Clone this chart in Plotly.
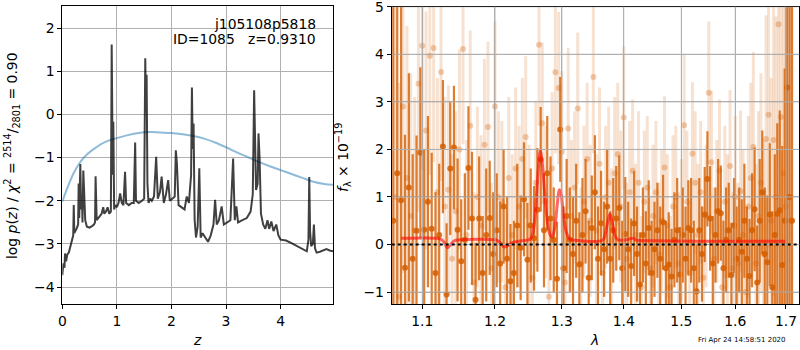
import plotly.graph_objects as go

# ---------------- left panel: log p(z) ----------------
z_pdf = [0.00, 0.02, 0.04, 0.05, 0.07, 0.09, 0.12, 0.15, 0.18, 0.20,
         0.21, 0.22, 0.26, 0.29, 0.30, 0.31, 0.33, 0.345, 0.36, 0.37,
         0.385, 0.40, 0.42, 0.45, 0.50, 0.55, 0.58, 0.60, 0.61, 0.63,
         0.68, 0.72, 0.75, 0.77, 0.80, 0.83, 0.86, 0.89, 0.905, 0.915,
         0.925, 0.935, 0.95, 0.97, 1.00, 1.03, 1.06, 1.09, 1.12, 1.15,
         1.17, 1.22, 1.27, 1.31, 1.335, 1.35, 1.40, 1.46, 1.50, 1.52,
         1.535, 1.545, 1.56, 1.58, 1.61, 1.64, 1.68, 1.72, 1.75, 1.79,
         1.82, 1.86, 1.90, 1.94, 1.97, 2.02, 2.06, 2.08, 2.10, 2.13,
         2.18, 2.24, 2.28, 2.32, 2.36, 2.375, 2.39, 2.405, 2.425, 2.45,
         2.48, 2.51, 2.535, 2.57, 2.62, 2.67, 2.72, 2.77, 2.80, 2.83,
         2.87, 2.92, 2.96, 3.02, 3.08, 3.13, 3.16, 3.19, 3.22, 3.30,
         3.38, 3.45, 3.49, 3.515, 3.535, 3.55, 3.58, 3.595, 3.615, 3.64,
         3.68, 3.72, 3.76, 3.79, 3.83, 3.87, 3.92, 3.96, 4.00, 4.10,
         4.20, 4.30, 4.40, 4.48, 4.51, 4.525, 4.54, 4.56, 4.59, 4.61,
         4.63, 4.66, 4.72, 4.78, 4.84, 4.90, 4.96]
logp_pdf = [-3.72, -3.45, -3.55, -3.22, -3.40, -3.25, -3.20, -3.05, -2.90, -2.80,
            -2.10, -2.75, -2.65, -2.55, -1.60, -2.40, -1.15, -2.20, -1.90, -2.50,
            -1.30, -2.10, -2.45, -2.60, -2.62, -2.58, -2.55, -2.50, -1.43, -2.45,
            -2.35, -2.30, -2.15, -2.30, -2.25, -2.15, -2.30, -2.25, 1.62, -0.50,
            -1.40, -0.17, -2.20, -2.10, -2.15, -2.05, -1.83, -2.05, -2.10, -1.33,
            -2.05, -2.10, -2.05, -2.05, -0.65, -2.00, -2.05, -2.00, -1.95, 1.30,
            0.05, 0.92, -1.60, -2.05, -1.95, -2.00, -1.90, -0.98, -1.95, -1.80,
            -1.44, -2.05, -1.85, -1.52, -2.00, -1.95, -1.90, -0.83, -1.13, -2.10,
            -2.15, -2.20, -1.90, -2.05, -1.40, 0.62, -0.80, -0.21, -2.45, -2.85,
            -2.60, -1.25, -2.85, -2.75, -2.85, -2.95, -2.80, -2.55, -1.98, -2.55,
            -2.45, -2.13, -2.55, -2.50, -2.45, -1.02, -2.45, -2.13, -2.50, -2.45,
            -2.40, -2.25, -1.85, 0.56, -1.00, -1.75, -1.60, -0.44, -1.00, -2.30,
            -2.55, -2.65, -2.45, -2.65, -2.48, -2.70, -2.55, -2.80, -2.90, -2.92,
            -2.98, -3.05, -3.13, -3.17, -2.90, -1.45, -2.70, -3.05, -3.00, -2.55,
            -3.10, -3.20, -3.18, -3.15, -3.12, -3.15, -3.17]

z_prior = [0.0, 0.1, 0.2, 0.32, 0.45, 0.6, 0.8, 1.0, 1.2, 1.4,
           1.6, 1.8, 2.0, 2.2, 2.4, 2.6, 2.8, 3.0, 3.2, 3.4,
           3.6, 3.8, 4.0, 4.2, 4.4, 4.6, 4.8, 4.96]
logp_prior = [-2.02, -1.68, -1.38, -1.12, -0.93, -0.78, -0.63, -0.55, -0.48, -0.43,
              -0.41, -0.42, -0.43, -0.46, -0.50, -0.56, -0.65, -0.76, -0.88, -0.99,
              -1.10, -1.20, -1.29, -1.38, -1.47, -1.56, -1.61, -1.63]

# ---------------- right panel: spectrum ----------------
wave_dark_A = [10625, 10675, 10725, 10775, 10825, 10875, 10925, 10975, 11025, 11075,
               11125, 11175, 11225, 11275, 11325, 11375, 11425, 11475, 11525, 11575,
               11625, 11675, 11725, 11775, 11825, 11875, 11925, 11975, 12025, 12075,
               12125, 12175, 12225, 12275, 12325, 12375, 12425, 12475, 12525, 12575,
               12625, 12675, 12725, 12775, 12825, 12875, 12925, 12975, 13025, 13075,
               13125, 13175, 13225, 13275, 13325, 13375, 13425, 13475, 13525, 13575,
               13625, 13675, 13725, 13775, 13825, 13875, 13925, 13975, 14025, 14075,
               14125, 14175, 14225, 14275, 14325, 14375, 14425, 14475, 14525, 14575,
               14625, 14675, 14725, 14775, 14825, 14875, 14925, 14975, 15025, 15075,
               15125, 15175, 15225, 15275, 15325, 15375, 15425, 15475, 15525, 15575,
               15625, 15675, 15725, 15775, 15825, 15875, 15925, 15975, 16025, 16075,
               16125, 16175, 16225, 16275, 16325, 16375, 16425, 16475, 16525, 16575,
               16625, 16675, 16725, 16775, 16825, 16875, 16925, 16975, 17025, 17075,
               17125]
flux_dark = [0.5, 1.5, 0.93, -0.49, 1.2, -0.3, 0.29, 1.93, 0.31, 0.9,
             0.33, -0.6, 0.2, 2.06, -1.05, 1.6, 2.04, 0.31, -0.35, 0.1,
             1.61, 0.55, -1.16, 0.55, -0.6, 0.2, 0.56, -0.2, 0.3, -0.4,
             0.8, -0.3, -0.77, -0.6, 0.4, -0.07, 0.95, -0.32, 0.4, 0.13,
             0.73, 1.79, 0.3, 1.5, 0.55, 0.1, -0.72, 2.42, -0.5, 0.6,
             0.1, -0.2, 0.5, -0.42, 0.2, 0.7, -0.7, 0.35, 1.1, -0.3,
             0.45, -0.1, 0.8, -0.3, 0.3, 0.55, 0.77, -0.5, 0.22, -0.1,
             -0.45, 0.44, -0.2, -0.84, 0.2, -0.4, 0.35, -0.6, -0.1, 0.3,
             -0.3, 0.47, -0.5, -0.42, -0.67, 0.1, 0.3, -0.63, 0.2, -0.3,
             0.35, 0.3, -0.5, -0.98, 0.3, -0.2, 0.63, 1.38, 0.55, -0.4,
             0.2, 0.7, 0.66, -0.5, 0.1, 0.3, -0.64, 0.4, -0.3, 0.1,
             -0.15, 0.5, -0.3, -0.66, 0.3, 0.74, -0.8, 0.5, 1.1, -0.2,
             -0.37, 0.63, -0.9, 0.2, 0.65, 0.72, -0.43, 0.5, 3.3, 1.0,
             0.5]
err_dark = [30, 30, 4.5, 2.8, 2.4, 2.2, 2.0, 1.8, 1.7, 1.8,
            1.6, 1.7, 1.5, 1.4, 1.5, 1.4, 1.3, 1.5, 1.3, 1.4,
            1.3, 1.4, 1.2, 1.3, 1.2, 1.4, 1.2, 1.3, 1.2, 1.3,
            1.2, 1.3, 1.2, 1.1, 1.3, 1.1, 1.2, 1.2, 1.2, 1.1,
            1.3, 1.1, 1.2, 1.2, 1.3, 1.1, 1.2, 1.1, 1.3, 1.2,
            1.1, 1.2, 1.2, 1.1, 1.2, 1.1, 1.2, 1.1, 1.2, 1.1,
            1.1, 1.0, 1.2, 1.0, 1.1, 1.1, 1.1, 1.0, 1.2, 1.0,
            1.0, 1.1, 1.0, 1.1, 1.0, 1.1, 1.0, 1.1, 1.0, 1.0,
            1.1, 1.0, 1.0, 1.1, 1.0, 1.0, 1.1, 1.0, 1.0, 1.1,
            1.0, 1.1, 1.0, 1.0, 1.1, 1.0, 1.0, 1.0, 1.1, 1.0,
            1.0, 1.1, 1.0, 1.0, 1.1, 1.0, 1.1, 1.0, 1.1, 1.1,
            1.1, 1.2, 1.1, 1.2, 1.2, 1.3, 1.2, 1.3, 1.3, 1.4,
            1.4, 1.5, 1.6, 1.7, 1.9, 2.1, 2.5, 3.2, 5.0, 30,
            30]

wave_light_A = [10650, 10700, 10750, 10800, 10850, 10900, 10950, 11000, 11050, 11100,
                11150, 11200, 11250, 11300, 11350, 11400, 11450, 11500, 11550, 11600,
                11650, 11700, 11750, 11800, 11850, 11900, 11950, 12000, 12050, 12100,
                12150, 12200, 12250, 12300, 12350, 12400, 12450, 12500, 12550, 12600,
                12650, 12700, 12750, 12800, 12850, 12900, 12950, 13000, 13050, 13100,
                13150, 13200, 13250, 13300, 13350, 13400, 13450, 13500, 13550, 13600,
                13650, 13700, 13750, 13800, 13850, 13900, 13950, 14000, 14050, 14100,
                14150, 14200, 14250, 14300, 14350, 14400, 14450, 14500, 14550, 14600,
                14650, 14700, 14750, 14800, 14850, 14900, 14950, 15000, 15050, 15100,
                15150, 15200, 15250, 15300, 15350, 15400, 15450, 15500, 15550, 15600,
                15650, 15700, 15750, 15800, 15850, 15900, 15950, 16000, 16050, 16100,
                16150, 16200, 16250, 16300, 16350, 16400, 16450, 16500, 16550, 16600,
                16650, 16700, 16750, 16800, 16850, 16900, 16950, 17000, 17050, 17100]
flux_light = [1.0, -1.1, 2.9, 1.4, 0.6, 0.3, 3.38, 4.18, 2.4, 3.97,
              4.13, 1.1, 3.63, 0.8, 1.15, -0.3, 0.7, 2.0, 4.11, 0.2,
              2.5, -0.8, 1.0, 0.4, 2.1, 2.47, -0.5, 2.9, 1.0, 0.9,
              -0.9, 1.4, 0.2, 1.6, 0.8, 1.8, 2.26, 0.4, -0.7, 1.3,
              4.2, 2.55, 0.9, -1.1, 1.6, 3.62, 3.29, 1.95, -0.8, 2.44,
              0.6, 1.2, 2.86, -0.4, 0.9, 1.8, 0.5, 3.52, 0.3, 1.7,
              -0.6, 1.0, 1.3, 0.1, 1.5, 1.9, 0.8, 2.67, -0.3, 1.1,
              1.55, 0.2, 1.3, -0.9, 0.9, 1.2, -0.5, 0.6, 1.1, -0.2,
              0.5, 1.62, 0.4, -0.9, 0.8, 1.0, -0.4, 0.3, 2.51, 0.9,
              -0.6, 1.91, 1.3, 0.2, 1.1, -0.7, 0.6, 3.19, 1.73, -0.3,
              0.7, 1.55, -0.9, 0.9, 0.3, 1.65, -0.5, 1.0, -0.4, 1.12,
              0.2, -1.0, 0.8, 1.4, 2.05, -0.4, 0.6, 1.3, -0.2, 2.22,
              2.73, 0.5, 2.2, 1.0, 4.63, 2.68, 1.5, 0.8, 1.0, 0.5]
err_light = [6, 4.5, 3.5, 3.2, 3.0, 2.8, 2.7, 2.6, 2.5, 2.5,
             2.4, 2.4, 2.3, 2.3, 2.2, 2.2, 2.1, 2.1, 2.0, 2.0,
             2.0, 1.9, 1.9, 1.9, 1.8, 1.8, 1.8, 1.8, 1.8, 1.7,
             1.7, 1.7, 1.7, 1.7, 1.7, 1.7, 1.7, 1.7, 1.7, 1.7,
             1.7, 1.7, 1.6, 1.7, 1.6, 1.7, 1.6, 1.7, 1.6, 1.7,
             1.6, 1.6, 1.6, 1.6, 1.6, 1.6, 1.6, 1.6, 1.6, 1.6,
             1.6, 1.5, 1.6, 1.5, 1.6, 1.5, 1.6, 1.5, 1.6, 1.5,
             1.5, 1.5, 1.5, 1.5, 1.5, 1.5, 1.5, 1.5, 1.5, 1.5,
             1.5, 1.5, 1.5, 1.5, 1.5, 1.5, 1.5, 1.5, 1.5, 1.5,
             1.5, 1.5, 1.5, 1.5, 1.5, 1.5, 1.5, 1.5, 1.5, 1.5,
             1.5, 1.5, 1.5, 1.6, 1.6, 1.6, 1.6, 1.7, 1.7, 1.7,
             1.8, 1.8, 1.9, 2.0, 2.0, 2.1, 2.2, 2.3, 2.4, 2.6,
             2.8, 3.0, 3.3, 3.8, 4.5, 6, 10, 30, 30, 30]

model_wave = [1.0725, 1.12, 1.125, 1.13, 1.1335, 1.138, 1.143, 1.15, 1.20, 1.205,
              1.21, 1.213, 1.218, 1.225, 1.24, 1.252, 1.257, 1.261, 1.264, 1.267,
              1.270, 1.274, 1.278, 1.282, 1.285, 1.289, 1.293, 1.296, 1.299, 1.303,
              1.308, 1.313, 1.32, 1.365, 1.369, 1.373, 1.377, 1.381, 1.385, 1.39,
              1.405, 1.41, 1.416, 1.422, 1.45, 1.55, 1.70]
model_flux = [0.13, 0.13, 0.11, 0.03, -0.07, 0.0, 0.08, 0.10, 0.10, 0.07,
              0.0, -0.05, -0.03, 0.04, 0.08, 0.12, 0.35, 1.0, 1.6, 1.96,
              1.7, 1.0, 0.45, 0.2, 0.16, 0.35, 0.85, 1.15, 1.05, 0.55,
              0.22, 0.11, 0.09, 0.09, 0.2, 0.45, 0.64, 0.45, 0.2, 0.1,
              0.1, 0.12, 0.13, 0.09, 0.08, 0.07, 0.07]

x1_ticks = [0, 1, 2, 3, 4]
y1_ticks = [-4, -3, -2, -1, 0, 1, 2]
x2_ticks = [1.1, 1.2, 1.3, 1.4, 1.5, 1.6, 1.7]
x2_labels = ["1.1", "1.2", "1.3", "1.4", "1.5", "1.6", "1.7"]
y2_ticks = [-1, 0, 1, 2, 3, 4, 5]

FONT = "DejaVu Sans"
FS = 13.9
W, H = 800, 350
GRID = "#b0b0b0"

fig = go.Figure()
fig.add_trace(go.Scatter(x=z_prior, y=logp_prior, mode="lines",
                         line=dict(color="rgba(31,119,180,0.5)", width=2, shape="spline"),
                         xaxis="x", yaxis="y", hoverinfo="skip"))
fig.add_trace(go.Scatter(x=z_pdf, y=logp_pdf, mode="lines",
                         line=dict(color="rgba(0,0,0,0.75)", width=2),
                         xaxis="x", yaxis="y"))

wave_light = [w / 1e4 for w in wave_light_A]
wave_dark = [w / 1e4 for w in wave_dark_A]
fig.add_trace(go.Scatter(x=wave_light, y=flux_light, mode="markers",
                         marker=dict(color="rgba(213,94,0,0.3)", size=6),
                         error_y=dict(type="data", array=err_light, color="rgba(213,94,0,0.18)",
                                      thickness=3, width=0),
                         xaxis="x2", yaxis="y2"))
fig.add_trace(go.Scatter(x=wave_dark, y=flux_dark, mode="markers",
                         marker=dict(color="rgba(213,94,0,0.85)", size=6),
                         error_y=dict(type="data", array=err_dark, color="rgba(213,94,0,0.8)",
                                      thickness=2.2, width=0),
                         xaxis="x2", yaxis="y2"))
fig.add_trace(go.Scatter(x=model_wave, y=model_flux, mode="lines",
                         line=dict(color="rgba(255,0,0,0.6)", width=3, shape="spline"),
                         xaxis="x2", yaxis="y2"))

# grid of the spectrum panel drawn above the error bars, as in the reference
for xv in x2_ticks:
    fig.add_shape(type="line", xref="x2", yref="y2 domain", x0=xv, x1=xv, y0=0, y1=1,
                  line=dict(color=GRID, width=1), layer="above")
for yv in y2_ticks:
    fig.add_shape(type="line", xref="x2 domain", yref="y2", x0=0, x1=1, y0=yv, y1=yv,
                  line=dict(color=GRID, width=1), layer="above")
fig.add_shape(type="line", xref="x2 domain", yref="y2", x0=0, x1=1, y0=0, y1=0,
              line=dict(color="black", width=2, dash="dot"), layer="above")

ax_common = dict(showline=True, linecolor="black", linewidth=1, mirror=True,
                 ticks="outside", ticklen=4, tickwidth=1, tickcolor="black",
                 showgrid=True, gridcolor=GRID, gridwidth=1, zeroline=False,
                 automargin=False, layer="above traces", ticklabeloverflow="allow",
                 tickfont=dict(family=FONT, size=FS, color="black"))

yb, yt = 1 - 304 / H, 1 - 6 / H
fig.update_layout(
    width=W, height=H, margin=dict(l=0, r=0, t=0, b=0),
    paper_bgcolor="white", plot_bgcolor="white", showlegend=False,
    font=dict(family=FONT, size=FS, color="black"),
    xaxis=dict(domain=[62.3 / W, 333 / W], range=[0, 4.96], tickvals=x1_ticks,
               anchor="y", **ax_common),
    yaxis=dict(domain=[yb, yt], range=[-4.39, 2.51], tickvals=y1_ticks,
               anchor="x", **ax_common),
    xaxis2=dict(domain=[391.7 / W, 799.3 / W], type="log", range=[0.0255, 0.2374],
                tickvals=x2_ticks, ticktext=x2_labels, anchor="y2", **ax_common),
    yaxis2=dict(domain=[yb, 1 - 6.7 / H], range=[-1.25, 5.0005], tickvals=y2_ticks,
                anchor="x2", **ax_common),
)

def ann(text, x, y, xanchor="center", yanchor="middle", size=FS, angle=0):
    fig.add_annotation(text=text, x=x / W, y=1 - y / H, xref="paper", yref="paper",
                       xanchor=xanchor, yanchor=yanchor, showarrow=False, textangle=angle,
                       font=dict(family=FONT, size=size, color="black"))

ann("j105108p5818", 318, 24, xanchor="right")
ann("ID=1085\u00a0\u00a0\u00a0z=0.9310", 318, 39, xanchor="right")
ann("<i>z</i>", 197, 340)
ann("<i>λ</i>", 594, 340)
ann("log <i>p</i>(<i>z</i>) / <i>χ</i><sup>2</sup> = <sup>2514</sup>/<sub>2801</sub> = 0.90",
    12, 156, angle=-90)
ann("<i>f</i><sub>λ</sub> × 10<sup>−19</sup>", 343, 158, angle=-90)
ann("Fri Apr 24 14:58:51 2020", 788, 340, xanchor="right", size=7)

fig.write_html("out.html")
